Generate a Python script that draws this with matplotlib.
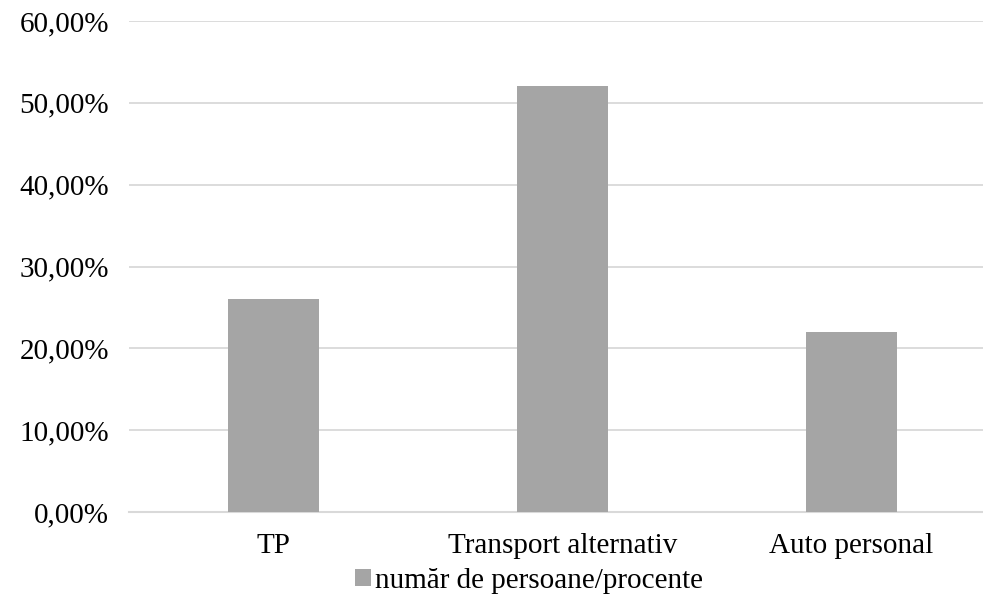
import numpy as np
import matplotlib.pyplot as plt

categorii = ['TP', 'Transport alternativ', 'Auto personal']
procente = [26.0, 52.0, 22.0]
yticks = [0, 10, 20, 30, 40, 50, 60]
ylabels = ['0,00%', '10,00%', '20,00%', '30,00%', '40,00%', '50,00%', '60,00%']
serie = 'număr de persoane/procente'

plt.rcParams['font.family'] = ['Liberation Serif', 'DejaVu Serif']

fig = plt.figure(figsize=(9.83, 5.99), dpi=100)
ax = fig.add_axes([129/983, 87/599, 867/983, 491/599])

x = np.arange(len(categorii))
ax.bar(x, procente, width=0.315, color='#a5a5a5', label=serie, zorder=3)

ax.set_xlim(-0.5, 2.5)
ax.set_ylim(0, 60)
ax.set_yticks(yticks)
ax.set_yticklabels(ylabels, fontsize=21)
ax.set_xticks(x)
ax.set_xticklabels(categorii, fontsize=21)
ax.tick_params(axis='y', length=0, pad=14.5)
ax.tick_params(axis='x', length=0, pad=15)
ax.yaxis.grid(True, color='#d9d9d9', linewidth=1.3, zorder=0)
for s in ['top', 'right', 'left']:
    ax.spines[s].set_visible(False)
ax.spines['bottom'].set_color('#d9d9d9')
ax.spines['bottom'].set_linewidth(1.5)

fig.legend(loc='center', bbox_to_anchor=(529/983, 1 - 581/599), frameon=False,
           fontsize=21, handlelength=0.55, handleheight=0.55, handletextpad=0.15,
           borderpad=0)

fig.savefig('out.png', dpi=100)
